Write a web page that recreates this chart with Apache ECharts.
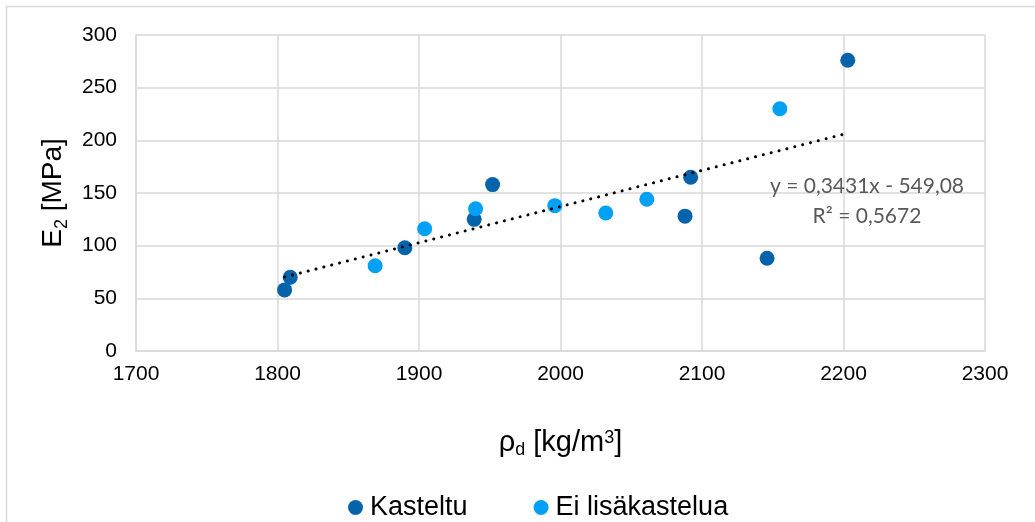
<!DOCTYPE html>
<html>
<head>
<meta charset="utf-8">
<script src="https://cdn.jsdelivr.net/npm/echarts@6/dist/echarts.min.js"></script>
<style>
  html, body { margin: 0; padding: 0; background: #fff; }
  #chart { width: 1035px; height: 522px; }
</style>
</head>
<body>
<div id="chart"></div>
<script>
// Dry density (kg/m3) and bearing modulus E2 (MPa) per test point
const kasteltuX = [1805, 1809, 1890, 1939, 1952, 2088, 2092, 2146, 2203];
const kasteltuY = [58, 70, 98, 125, 158, 128, 165, 88, 276];
const eiLisakasteluaX = [1869, 1904, 1940, 1996, 2032, 2061, 2155];
const eiLisakasteluaY = [81, 116, 135, 138, 131, 144, 230];

const seriesNames = ['Kasteltu', 'Ei lisäkastelua'];

// Linear trend over all points, as given by the fitted equation
const trendSlope = 0.3431;
const trendIntercept = -549.08;
const trendLabel = ['y = 0,3431x - 549,08', 'R² = 0,5672'];

const xTicks = { min: 1700, max: 2300, interval: 100 };
const yTicks = { min: 0, max: 300, interval: 50 };

const zip = (xs, ys) => xs.map((x, i) => [x, ys[i]]);
const allX = kasteltuX.concat(eiLisakasteluaX);
const xLo = Math.min(...allX), xHi = Math.max(...allX);
const trendData = [xLo, xHi].map(x => [x, trendSlope * x + trendIntercept]);

const gridColor = '#d9d9d9';
const font = '"Liberation Sans", Arial, sans-serif';
const plain = v => String(v);

const chart = echarts.init(document.getElementById('chart'), null, { renderer: 'canvas' });

chart.setOption({
  animation: false,
  backgroundColor: '#fff',
  textStyle: { fontFamily: font },
  grid: { left: 136, right: 50, top: 35, bottom: 171, containLabel: false },
  xAxis: {
    type: 'value',
    min: xTicks.min, max: xTicks.max, interval: xTicks.interval,
    axisLine: { show: true, lineStyle: { color: gridColor, width: 1.5 } },
    axisTick: { show: false },
    splitLine: { show: true, lineStyle: { color: gridColor, width: 1.5 } },
    axisLabel: { color: '#000', fontSize: 21, fontFamily: font, margin: 13, formatter: plain },
    name: '{m|ρ}{sub|d}{m| [kg/m}{sup|3}{m|]}',
    nameLocation: 'middle',
    nameGap: 74,
    nameTextStyle: {
      rich: {
        m: { fontSize: 29, fontFamily: font, color: '#000', lineHeight: 36, verticalAlign: 'middle' },
        sub: { fontSize: 18, fontFamily: font, color: '#000', lineHeight: 36, verticalAlign: 'bottom', padding: [0, 0, 2, 0] },
        sup: { fontSize: 18, fontFamily: font, color: '#000', lineHeight: 36, verticalAlign: 'top', padding: [4, 0, 0, 0] }
      }
    }
  },
  yAxis: {
    type: 'value',
    min: yTicks.min, max: yTicks.max, interval: yTicks.interval,
    axisLine: { show: true, lineStyle: { color: gridColor, width: 1.5 } },
    axisTick: { show: false },
    splitLine: { show: true, lineStyle: { color: gridColor, width: 1.5 } },
    axisLabel: { color: '#000', fontSize: 21, fontFamily: font, margin: 19, formatter: plain },
    name: '{m|E}{sub|2}{m| [MPa]}',
    nameLocation: 'middle',
    nameRotate: 90,
    nameGap: 55,
    nameTextStyle: {
      rich: {
        m: { fontSize: 28, fontFamily: font, color: '#000', lineHeight: 36, verticalAlign: 'middle' },
        sub: { fontSize: 18, fontFamily: font, color: '#000', lineHeight: 36, verticalAlign: 'bottom', padding: [0, 0, 0, 0] }
      }
    }
  },
  legend: {
    data: seriesNames,
    left: 343,
    top: 489,
    icon: 'circle',
    itemWidth: 15,
    itemHeight: 15,
    itemGap: 66,
    textStyle: { fontSize: 27, fontFamily: font, color: '#000', padding: [0, 0, 0, 2] }
  },
  series: [
    {
      name: seriesNames[0],
      type: 'scatter',
      symbol: 'circle',
      symbolSize: 15,
      itemStyle: { color: '#0563AB', opacity: 1 },
      data: zip(kasteltuX, kasteltuY),
      z: 3
    },
    {
      name: seriesNames[1],
      type: 'scatter',
      symbol: 'circle',
      symbolSize: 15,
      itemStyle: { color: '#00A0F4', opacity: 1 },
      data: zip(eiLisakasteluaX, eiLisakasteluaY),
      z: 3
    },
    {
      name: 'trend',
      type: 'line',
      data: trendData,
      symbol: 'none',
      silent: true,
      lineStyle: { color: '#000', width: 3, type: [0.1, 8], cap: 'round' },
      z: 4
    }
  ],
  graphic: [
    {
      type: 'rect',
      shape: { x: 6.5, y: 6.5, width: 1040, height: 530 },
      style: { fill: 'none', stroke: gridColor, lineWidth: 1.5 },
      silent: true,
      z: -1
    },
    {
      type: 'text',
      x: 867, y: 186,
      style: {
        text: trendLabel[0], x: 0, y: 0,
        fill: '#595959', font: '21px Lato, "Noto Sans", sans-serif',
        align: 'center', verticalAlign: 'middle'
      },
      z: 10
    },
    {
      type: 'text',
      x: 867, y: 216,
      style: {
        text: trendLabel[1], x: 0, y: 0,
        fill: '#595959', font: '21px Lato, "Noto Sans", sans-serif',
        align: 'center', verticalAlign: 'middle'
      },
      z: 10
    }
  ]
});
</script>
</body>
</html>
